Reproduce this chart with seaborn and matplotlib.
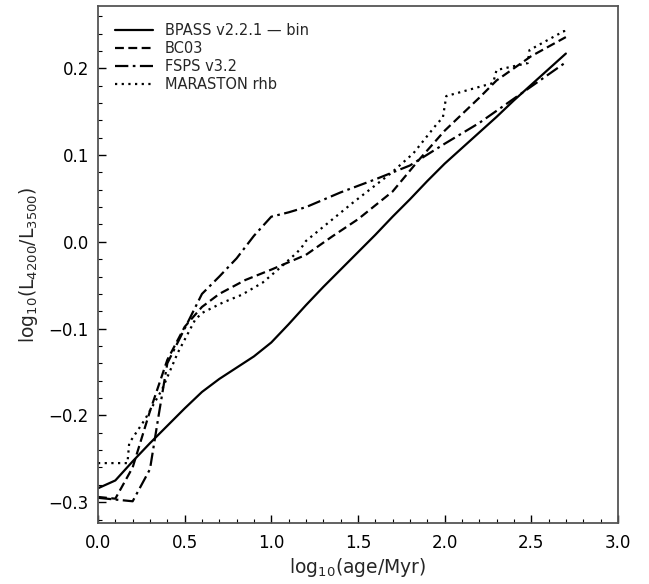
import numpy as np
import pandas as pd
import matplotlib
matplotlib.use("Agg")
import matplotlib.pyplot as plt
import seaborn as sns
from matplotlib.ticker import MultipleLocator

sns.set_style("ticks")
plt.rcParams['font.family'] = ['DejaVu Sans']

# --- data ---
bpass_x = [0.0, 0.1, 0.2, 0.3, 0.4, 0.5, 0.6, 0.7, 0.8, 0.9, 1.0, 1.1, 1.2, 1.3,
           1.4, 1.5, 1.6, 1.7, 1.8, 1.9, 2.0, 2.1, 2.2, 2.3, 2.4, 2.5, 2.6, 2.7]
bpass_y = [-0.284, -0.275, -0.253, -0.232, -0.212, -0.192, -0.173, -0.158, -0.145,
           -0.132, -0.116, -0.095, -0.073, -0.052, -0.032, -0.012, 0.008, 0.029,
           0.049, 0.070, 0.090, 0.108, 0.126, 0.144, 0.163, 0.181, 0.199, 0.217]

bc03_x = [0.0, 0.1, 0.2, 0.3, 0.4, 0.5, 0.6, 0.7, 0.85, 1.0, 1.2, 1.35, 1.5, 1.7,
          1.85, 2.0, 2.2, 2.3, 2.5, 2.7]
bc03_y = [-0.294, -0.296, -0.260, -0.195, -0.136, -0.098, -0.075, -0.060, -0.044,
          -0.032, -0.015, 0.006, 0.026, 0.058, 0.094, 0.128, 0.166, 0.186, 0.214, 0.236]

fsps_x = [0.0, 0.1, 0.2, 0.3, 0.35, 0.4, 0.5, 0.6, 0.7, 0.8, 0.9, 1.0, 1.1, 1.2,
          1.4, 1.6, 1.8, 2.0, 2.2, 2.4, 2.7]
fsps_y = [-0.295, -0.297, -0.299, -0.262, -0.200, -0.140, -0.100, -0.060, -0.040,
          -0.019, 0.007, 0.029, 0.034, 0.040, 0.057, 0.072, 0.088, 0.113, 0.137,
          0.165, 0.207]

mar_x = [0.0, 0.17, 0.18, 0.27, 0.37, 0.46, 0.56, 0.6, 0.72, 0.83, 0.95, 1.05,
         1.15, 1.18, 1.2, 1.47, 1.69, 1.82, 1.96, 1.99, 2.01, 2.28, 2.3, 2.48,
         2.49, 2.69, 2.7]
mar_y = [-0.255, -0.255, -0.232, -0.205, -0.170, -0.128, -0.090, -0.082, -0.070,
         -0.061, -0.047, -0.030, -0.012, -0.005, 0.001, 0.045, 0.079, 0.102,
         0.137, 0.143, 0.168, 0.183, 0.198, 0.206, 0.221, 0.243, 0.239]

models = ["BPASS v2.2.1 \u2014 bin", "BC03", "FSPS v3.2", "MARASTON rhb"]
xs = [bpass_x, bc03_x, fsps_x, mar_x]
ys = [bpass_y, bc03_y, fsps_y, mar_y]

df = pd.concat([pd.DataFrame({"x": x, "y": y, "model": m})
                for x, y, m in zip(xs, ys, models)], ignore_index=True)

fig = plt.figure(figsize=(6.49, 5.84), dpi=100)
ax = fig.add_axes([0.151, 0.1045, 0.801, 0.8855])

dashes = {models[0]: "", models[1]: (4, 2), models[2]: (6, 2, 1.2, 2),
          models[3]: (1, 2)}
sns.lineplot(data=df, x="x", y="y", style="model", style_order=models,
             dashes=dashes, color="k", lw=1.6, estimator=None, sort=False,
             ax=ax)

ax.set_xlim(0, 3.0)
ax.set_ylim(-0.324, 0.272)
ax.xaxis.set_major_locator(MultipleLocator(0.5))
ax.xaxis.set_minor_locator(MultipleLocator(0.1))
ax.yaxis.set_major_locator(MultipleLocator(0.1))
ax.yaxis.set_minor_locator(MultipleLocator(0.02))
ax.tick_params(which="both", direction="in", labelsize=12, colors="k")
ax.tick_params(which="major", length=6, width=1)
ax.tick_params(which="minor", length=3, width=0.8)
ax.tick_params(axis="x", which="major", pad=8)
ax.tick_params(axis="y", which="major", pad=6.5)
for s in ax.spines.values():
    s.set_color("#555555")
    s.set_linewidth(1.3)

ax.set_xlabel(r"log$_{10}$(age/Myr)", fontsize=13.5, labelpad=3)
ax.set_ylabel(r"log$_{10}$(L$_{4200}$/L$_{3500}$)", fontsize=13.5, labelpad=6)

handles, labels = ax.get_legend_handles_labels()
ax.legend(handles, labels, loc="upper left", frameon=False, fontsize=10.5,
          handlelength=2.6, borderaxespad=0.8, labelspacing=0.2)

fig.savefig("out.png", dpi=100)
